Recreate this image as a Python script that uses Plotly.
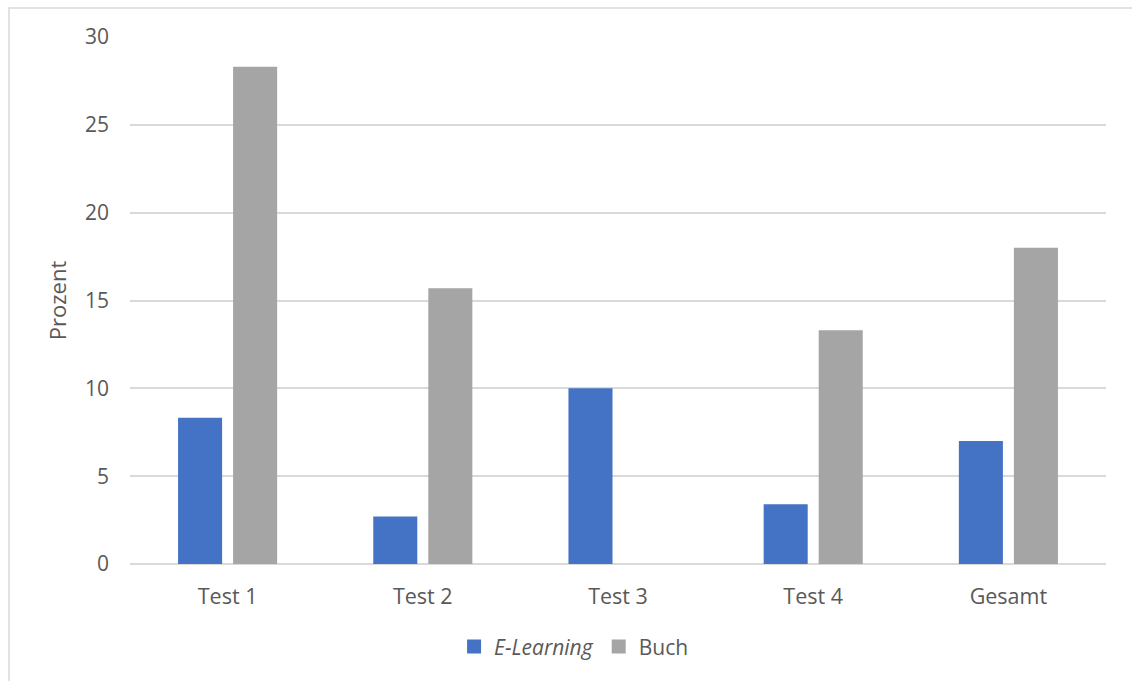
import plotly.graph_objects as go

categories = ["Test 1", "Test 2", "Test 3", "Test 4", "Gesamt"]
elearning = [8.33, 2.7, 10.0, 3.4, 7.0]
buch = [28.3, 15.7, 0.0, 13.3, 18.0]
y_ticks = [0, 5, 10, 15, 20, 25, 30]
series_names = ["<i>E-Learning</i>", "Buch"]
series_colors = ["#4472C4", "#A5A5A5"]

fig = go.Figure()
for vals, name, col in zip([elearning, buch], series_names, series_colors):
    fig.add_trace(go.Bar(x=categories, y=vals, name=name, showlegend=False,
                         marker=dict(color=col, line=dict(width=0))))
for name, col in zip(series_names, series_colors):
    fig.add_trace(go.Scatter(x=[None], y=[None], mode="markers", name=name,
                             marker=dict(symbol="square", size=14, color=col)))

font = dict(family="Open Sans, Lato, sans-serif", size=21, color="#595959")
fig.update_layout(
    width=1132, height=681,
    margin=dict(l=130, r=26, t=37, b=117),
    paper_bgcolor="white", plot_bgcolor="white",
    barmode="group", bargap=0.436, bargroupgap=0.2,
    font=font,
    showlegend=True,
    legend=dict(orientation="h", x=0.455, xanchor="center", y=-0.157, yanchor="middle",
                font=dict(size=21, color="#595959"), itemwidth=30,
                tracegroupgap=0),
    xaxis=dict(showgrid=False, showline=False, ticks="", tickfont=dict(size=21.5),
               ticklabelstandoff=17, type="category"),
    yaxis=dict(range=[0, 30], tickvals=y_ticks, showgrid=True, gridcolor="#D9D9D9",
               gridwidth=1.5, zeroline=True, zerolinecolor="#D9D9D9", zerolinewidth=1.5,
               showline=False, ticks="", ticklen=0, tickfont=dict(size=21),
               ticklabelstandoff=20,
               title=dict(text="Prozent", font=dict(size=22), standoff=12)),
)
fig.add_shape(type="rect", xref="paper", yref="paper",
              x0=-0.124, x1=1.2, y0=-0.4, y1=1.055,
              line=dict(color="#D9D9D9", width=1.5), fillcolor="rgba(0,0,0,0)", layer="below")
fig.write_html("out.html")
